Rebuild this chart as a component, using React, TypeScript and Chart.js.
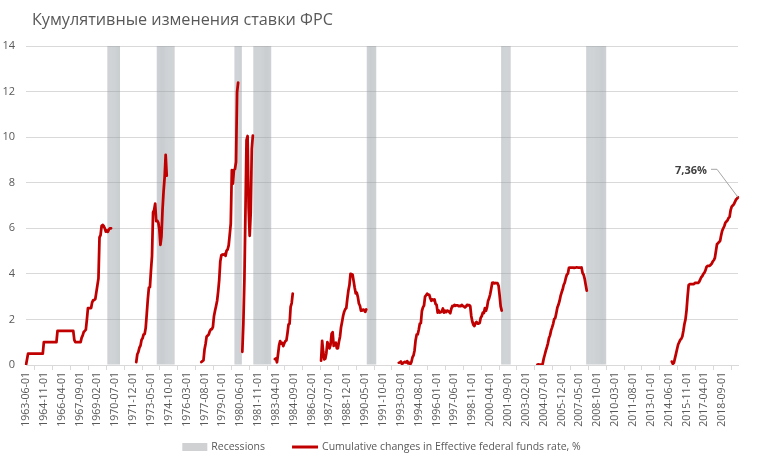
import React, { useEffect, useRef } from "react";
import { Chart, registerables } from "chart.js";

Chart.register(...registerables);

const TITLE = "Кумулятивные изменения ставки ФРС";
const FIRST_MONTH = "1963-06";
const LAST_MONTH = "2019-12";
const LABEL_STEP = 17;
const Y_MIN = 0;
const Y_MAX = 14;
const Y_STEP = 2;

const LEGEND_RECESSIONS = "Recessions";
const LEGEND_LINE = "Cumulative changes in Effective federal funds rate, %";
const ANNOTATION_TEXT = "7,36%";

// NBER recessions (start month, end month)
const recessions: [string, string][] = [
  ["1969-12", "1970-11"],
  ["1973-11", "1975-03"],
  ["1980-01", "1980-07"],
  ["1981-07", "1982-11"],
  ["1990-07", "1991-03"],
  ["2001-03", "2001-11"],
  ["2007-12", "2009-06"],
];

// Cumulative change in the effective federal funds rate, %, by tightening cycle (monthly)
const cycle1963Start = "1963-06";
const cycle1963 = [
  0, 0.25, 0.5, 0.5, 0.5, 0.5, 0.5, 0.5, 0.5, 0.5, 0.5, 0.5, 0.5, 0.5, 0.5, 0.5, 0.5,
  1, 1, 1, 1, 1, 1, 1, 1, 1, 1, 1, 1, 1,
  1.5, 1.5, 1.5, 1.5, 1.5, 1.5, 1.5, 1.5, 1.5, 1.5, 1.5, 1.5, 1.5, 1.5, 1.5, 1.5,
  1.1, 1, 1, 1, 1, 1, 1,
  1.2, 1.3, 1.45, 1.5, 1.55, 2.0,
  2.5, 2.5, 2.5, 2.5, 2.75, 2.85, 2.85, 2.9, 3.2, 3.5, 3.8,
  5.6, 5.7, 6.1, 6.15, 6.1, 6.0, 5.85, 5.9, 5.85, 5.95, 6.0, 6.0,
];

const cycle1972Start = "1972-03";
const cycle1972 = [
  0.13, 0.47, 0.57, 0.76, 0.85, 1.1, 1.17, 1.34, 1.36, 1.63, 2.24, 2.88, 3.39, 3.42, 4.14,
  4.79, 6.7, 6.8, 7.08, 6.31, 6.33, 6.25, 5.95, 5.27, 5.65, 6.81, 7.61, 8.23, 9.22, 8.31,
];

const cycle1977Start = "1977-05";
const cycle1977 = [
  0.13, 0.17, 0.2, 0.68, 0.92, 1.25, 1.29, 1.34, 1.48, 1.56, 1.57, 1.67, 2.14, 2.38, 2.59,
  2.82, 3.23, 3.74, 4.54, 4.81, 4.85, 4.84, 4.87, 4.79, 5.02, 5.07, 5.25, 5.72, 6.21, 8.55,
  7.96, 8.56, 8.6, 8.91, 11.97, 12.39,
];

const cycle1980Start = "1980-08";
const cycle1980 = [0.58, 1.84, 3.78, 6.82, 9.87, 10.05, 6.9, 5.67, 6.69, 9.49, 10.07];

const cycle1983Start = "1983-03";
const cycle1983 = [
  0.26, 0.29, 0.12, 0.47, 0.86, 1.05, 0.94, 0.97, 0.83, 0.96, 1.05, 1.08, 1.4, 1.78, 1.81,
  2.55, 2.72, 3.13,
];

const cycle1986Start = "1986-11";
const cycle1986 = [
  0.19, 1.06, 0.58, 0.25, 0.28, 0.52, 1.0, 0.88, 0.73, 0.88, 1.37, 1.44, 0.84, 0.92, 0.98,
  0.73, 0.73, 1.02, 1.24, 1.66, 1.9, 2.16, 2.34, 2.45, 2.5, 2.91, 3.27, 3.51, 4.0, 3.99,
  3.96, 3.68, 3.39, 3.14, 3.17, 2.99, 2.7, 2.6, 2.38, 2.39, 2.43, 2.41, 2.33, 2.44,
];

const cycle1993Start = "1993-01";
const cycle1993 = [
  0.1, 0.11, 0.15, 0.04, 0.08, 0.12, 0.14, 0.11, 0.17, 0.07, 0.1, 0.04,
  0.13, 0.33, 0.42, 0.64, 1.09, 1.33, 1.34, 1.55, 1.81, 1.84, 2.37, 2.53,
  2.61, 3.0, 3.06, 3.13, 3.09, 3.08, 2.93, 2.82, 2.88, 2.84, 2.88, 2.68,
  2.64, 2.3, 2.39, 2.3, 2.32, 2.35, 2.48, 2.3, 2.38, 2.32, 2.39, 2.37,
  2.33, 2.27, 2.47, 2.59, 2.58, 2.64, 2.6, 2.62, 2.62, 2.58, 2.6, 2.58,
  2.64, 2.59, 2.57, 2.53, 2.57, 2.64, 2.62, 2.63, 2.59, 2.15, 1.91, 1.76,
  1.71, 1.84, 1.89, 1.82, 1.82, 1.84, 2.07, 2.15, 2.3, 2.28, 2.5, 2.38,
  2.53, 2.81, 2.93, 3.1, 3.35, 3.61, 3.62, 3.58, 3.6, 3.59, 3.59, 3.48,
  3.06, 2.57, 2.39,
];

const cycle2004Start = "2004-01";
const cycle2004 = [
  0.02, 0.03, 0.02, 0.02, 0.02, 0.05, 0.28, 0.45, 0.63, 0.78, 0.95, 1.18,
  1.3, 1.52, 1.65, 1.81, 2.02, 2.06, 2.28, 2.52, 2.64, 2.8, 3.02, 3.18,
  3.31, 3.51, 3.61, 3.81, 3.96, 4.01, 4.26, 4.27, 4.27, 4.27, 4.27, 4.26,
  4.27, 4.28, 4.28, 4.27, 4.27, 4.27, 4.28, 4.04, 3.96, 3.78, 3.51, 3.26,
];

const cycle2014Start = "2014-09";
const cycle2014 = [
  0.15, 0.05, 0.1, 0.3, 0.5, 0.7, 0.9, 1.0, 1.1, 1.15, 1.25, 1.5, 1.8, 2.0, 2.4, 3.0,
  3.5, 3.55, 3.55, 3.55, 3.55, 3.55, 3.6, 3.6, 3.6, 3.6, 3.65, 3.75, 3.85, 3.9, 4.0, 4.05,
  4.15, 4.3, 4.35, 4.35, 4.35, 4.4, 4.45, 4.55, 4.6, 4.7, 5.0, 5.3, 5.35, 5.4, 5.45, 5.7,
  5.9, 6.0, 6.1, 6.25, 6.3, 6.35, 6.45, 6.5, 6.8, 6.95, 7.0, 7.05, 7.15, 7.25, 7.3, 7.36,
];

const cycles: [string, number[]][] = [
  [cycle1963Start, cycle1963],
  [cycle1972Start, cycle1972],
  [cycle1977Start, cycle1977],
  [cycle1980Start, cycle1980],
  [cycle1983Start, cycle1983],
  [cycle1986Start, cycle1986],
  [cycle1993Start, cycle1993],
  [cycle2004Start, cycle2004],
  [cycle2014Start, cycle2014],
];

const FONT = '"Open Sans", "DejaVu Sans", sans-serif';
const TEXT_COLOR = "#595959";
const GRID_COLOR = "#d9d9d9";
const LINE_COLOR = "#c00000";
const BAR_COLOR = "rgba(150,157,163,0.5)";
const BAR_LEGEND_COLOR = "#cfd1d3";

function monthNumber(s: string): number {
  const [y, m] = s.split("-").map(Number);
  return y * 12 + (m - 1);
}

const BASE = monthNumber(FIRST_MONTH);
const COUNT = monthNumber(LAST_MONTH) - BASE + 1;

const categories: string[] = [];
for (let i = 0; i < COUNT; i++) {
  const t = BASE + i;
  const y = Math.floor(t / 12);
  const m = (t % 12) + 1;
  categories.push(`${y}-${String(m).padStart(2, "0")}-01`);
}

function buildLine(): (number | null)[] {
  const out: (number | null)[] = new Array(COUNT).fill(null);
  cycles.forEach(([start, vals]) => {
    const off = monthNumber(start) - BASE;
    vals.forEach((v, k) => {
      out[off + k] = v;
    });
  });
  return out;
}

function buildRecessions(): (number | null)[] {
  const out: (number | null)[] = new Array(COUNT).fill(null);
  recessions.forEach(([s, e]) => {
    for (let t = monthNumber(s); t <= monthNumber(e); t++) out[t - BASE] = Y_MAX;
  });
  return out;
}

const titlePlugin = {
  id: "customTitle",
  afterDraw(chart: any) {
    const ctx = chart.ctx;
    ctx.save();
    ctx.font = `16.2px ${FONT}`;
    ctx.fillStyle = TEXT_COLOR;
    ctx.textBaseline = "alphabetic";
    ctx.textAlign = "left";
    ctx.fillText(TITLE, 32, 25);
    ctx.restore();
  },
};

const legendPlugin = {
  id: "customLegend",
  afterDraw(chart: any) {
    const ctx = chart.ctx;
    ctx.save();
    ctx.font = `10.5px ${FONT}`;
    const w1 = ctx.measureText(LEGEND_RECESSIONS).width;
    const w2 = ctx.measureText(LEGEND_LINE).width;
    const total = 25 + 4 + w1 + 27 + 26 + 4 + w2;
    let x = (chart.width - total) / 2 + 2;
    const y = 447;
    ctx.fillStyle = BAR_LEGEND_COLOR;
    ctx.fillRect(x, y - 4, 25, 8);
    x += 29;
    ctx.fillStyle = TEXT_COLOR;
    ctx.textBaseline = "middle";
    ctx.textAlign = "left";
    ctx.fillText(LEGEND_RECESSIONS, x, y);
    x += w1 + 27;
    ctx.strokeStyle = LINE_COLOR;
    ctx.lineWidth = 3;
    ctx.beginPath();
    ctx.moveTo(x, y);
    ctx.lineTo(x + 26, y);
    ctx.stroke();
    x += 30;
    ctx.fillText(LEGEND_LINE, x, y);
    ctx.restore();
  },
};

const annotationPlugin = {
  id: "lastLabel",
  afterDatasetsDraw(chart: any) {
    const meta = chart.getDatasetMeta(1);
    const pt = meta.data[COUNT - 1];
    if (!pt) return;
    const ctx = chart.ctx;
    const px = pt.x;
    const py = pt.y;
    ctx.save();
    ctx.strokeStyle = "#a6a6a6";
    ctx.lineWidth = 1;
    ctx.beginPath();
    ctx.moveTo(px, py);
    ctx.lineTo(px - 21, py - 28);
    ctx.lineTo(px - 27, py - 28);
    ctx.stroke();
    ctx.font = `bold 11px ${FONT}`;
    ctx.fillStyle = "#404040";
    ctx.textAlign = "right";
    ctx.textBaseline = "middle";
    ctx.fillText(ANNOTATION_TEXT, px - 31, py - 26);
    ctx.restore();
  },
};

export default function App() {
  const ref = useRef<HTMLCanvasElement | null>(null);

  useEffect(() => {
    if (!ref.current) return;
    const chart = new Chart(ref.current, {
      type: "bar",
      data: {
        labels: categories,
        datasets: [
          {
            type: "bar",
            label: LEGEND_RECESSIONS,
            data: buildRecessions(),
            backgroundColor: BAR_COLOR,
            borderWidth: 0,
            barPercentage: 1,
            categoryPercentage: 1,
            inflateAmount: 0,
            order: 2,
          } as any,
          {
            type: "line",
            label: LEGEND_LINE,
            data: buildLine(),
            borderColor: LINE_COLOR,
            backgroundColor: LINE_COLOR,
            borderWidth: 2.75,
            pointRadius: 0,
            pointHoverRadius: 0,
            tension: 0,
            spanGaps: false,
            borderJoinStyle: "round",
            borderCapStyle: "round",
            order: 1,
          } as any,
        ],
      },
      options: {
        responsive: false,
        animation: false,
        devicePixelRatio: 1,
        layout: { padding: { top: 46, right: 21, bottom: 0, left: 0 } },
        plugins: {
          legend: { display: false },
          title: { display: false },
          tooltip: { enabled: false },
        },
        events: [],
        scales: {
          x: {
            type: "category",
            offset: false,
            grid: {
              display: true,
              drawOnChartArea: false,
              tickLength: 5,
              color: GRID_COLOR,
            },
            border: { display: true, color: GRID_COLOR },
            ticks: {
              autoSkip: false,
              minRotation: 90,
              maxRotation: 90,
              padding: 2,
              color: TEXT_COLOR,
              font: { family: FONT, size: 10.5 },
              callback: (_v: any, i: number) => (i % LABEL_STEP === 0 ? categories[i] : null),
            },
            afterFit: (s: any) => {
              s.height = 99;
            },
          },
          y: {
            min: Y_MIN,
            max: Y_MAX,
            ticks: {
              stepSize: Y_STEP,
              padding: 11,
              color: TEXT_COLOR,
              font: { family: FONT, size: 11 },
            },
            grid: { color: GRID_COLOR, drawTicks: false },
            border: { display: false },
            afterFit: (s: any) => {
              s.width = 26;
            },
          },
        },
      } as any,
      plugins: [titlePlugin, legendPlugin, annotationPlugin],
    });
    return () => chart.destroy();
  }, []);

  return (
    <div style={{ position: "absolute", left: 0, top: 0, width: 759, height: 464, background: "#fff" }}>
      <canvas ref={ref} width={759} height={464} style={{ display: "block" }} />
    </div>
  );
}
